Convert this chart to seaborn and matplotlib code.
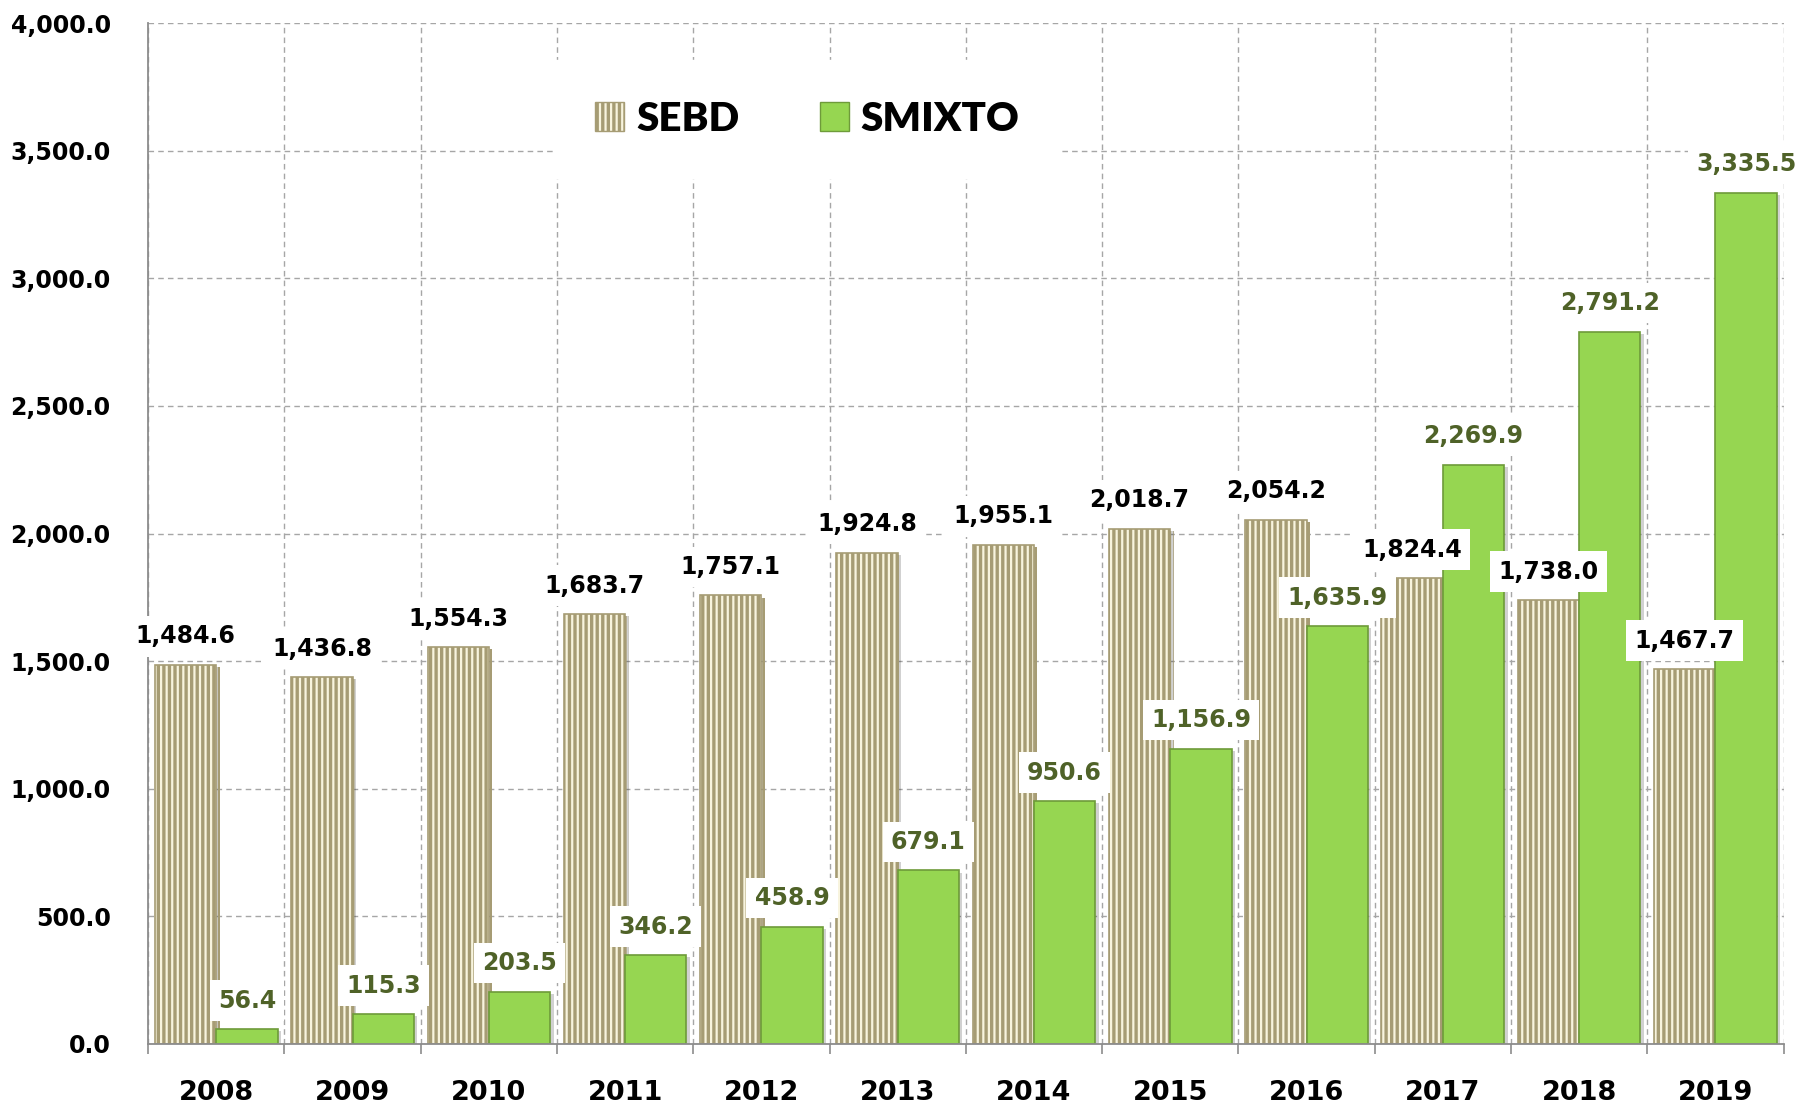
import matplotlib
matplotlib.use("Agg")
import matplotlib.pyplot as plt
import matplotlib.patheffects as pe
from matplotlib.patches import Patch
from matplotlib.ticker import FuncFormatter, MultipleLocator, FixedLocator
import seaborn as sns
import pandas as pd

years = ["2008", "2009", "2010", "2011", "2012", "2013", "2014", "2015", "2016", "2017", "2018", "2019"]
sebd = [1484.6, 1436.8, 1554.3, 1683.7, 1757.1, 1924.8, 1955.1, 2018.7, 2054.2, 1824.4, 1738.0, 1467.7]
smixto = [56.4, 115.3, 203.5, 346.2, 458.9, 679.1, 950.6, 1156.9, 1635.9, 2269.9, 2791.2, 3335.5]
series_names = ["SEBD", "SMIXTO"]

df = pd.DataFrame({"year": years * 2,
                   "value": sebd + smixto,
                   "series": [series_names[0]] * len(years) + [series_names[1]] * len(years)})

sns.set_style("white")
plt.rcParams["font.family"] = ["DejaVu Sans"]
plt.rcParams["hatch.linewidth"] = 2.4
plt.rcParams["text.color"] = "black"
plt.rcParams["xtick.color"] = "black"
plt.rcParams["ytick.color"] = "black"

SEBD_FACE = "#F8F4DE"
SEBD_STRIPE = "#A69C74"
GREEN = "#96D651"
GREEN_EDGE = "#6E9B3A"
LABEL_GREEN = "#4F6228"
GRID = "#A6A6A6"

fig = plt.figure(figsize=(18.07, 11.08), dpi=100)
ax = fig.add_axes([0.082, 0.058, 0.905, 0.921])

sns.barplot(data=df, x="year", y="value", hue="series",
            palette={series_names[0]: SEBD_FACE, series_names[1]: GREEN},
            width=0.9, gap=0, ax=ax, legend=False, saturation=1)

shadow = [pe.SimplePatchShadow(offset=(2.5, -1.5), shadow_rgbFace="#000000", alpha=0.18), pe.Normal()]
for p in ax.containers[0]:
    p.set_hatch("|||")
    p.set_edgecolor(SEBD_STRIPE)
    p.set_linewidth(1.2)
    p.set_path_effects(shadow)
for p in ax.containers[1]:
    p.set_edgecolor(GREEN_EDGE)
    p.set_linewidth(1.2)
    p.set_path_effects(shadow)

fmt = lambda v: f"{v:,.1f}"
ax.bar_label(ax.containers[0], labels=[fmt(v) for v in sebd], padding=12,
             fontsize=17, fontweight="bold", color="black",
             bbox=dict(boxstyle="square,pad=0.35", fc="white", ec="none"))
ax.bar_label(ax.containers[1], labels=[fmt(v) for v in smixto], padding=12,
             fontsize=17, fontweight="bold", color=LABEL_GREEN,
             bbox=dict(boxstyle="square,pad=0.35", fc="white", ec="none"))

ax.set_ylim(0, 4000)
ax.set_xlim(-0.5, len(years) - 0.5)
ax.yaxis.set_major_locator(MultipleLocator(500))
ax.yaxis.set_major_formatter(FuncFormatter(lambda v, p: f"{v:,.1f}"))
ax.xaxis.set_minor_locator(FixedLocator([i - 0.5 for i in range(len(years) + 1)]))

ax.grid(axis="y", which="major", color=GRID, linestyle=(0, (4, 3)), linewidth=1)
ax.grid(axis="x", which="minor", color=GRID, linestyle=(0, (4, 3)), linewidth=1)
ax.grid(axis="x", which="major", visible=False)
ax.set_axisbelow(True)

for s in ["top", "right"]:
    ax.spines[s].set_visible(False)
for s in ["left", "bottom"]:
    ax.spines[s].set_color("#8C8C8C")
    ax.spines[s].set_linewidth(1.3)

ax.tick_params(axis="y", which="major", length=7, width=1.2, color="#8C8C8C", pad=20,
               labelsize=17, labelcolor="black")
ax.tick_params(axis="x", which="major", length=0, pad=26, labelsize=19.5, labelcolor="black")
ax.tick_params(axis="x", which="minor", length=7, width=1.2, color="#8C8C8C", bottom=True)
for t in ax.get_xticklabels() + ax.get_yticklabels():
    t.set_fontweight("bold")

ax.set_xlabel("")
ax.set_ylabel("")

handles = [Patch(facecolor=SEBD_FACE, edgecolor=SEBD_STRIPE, hatch="|||", label=series_names[0]),
           Patch(facecolor=GREEN, edgecolor=GREEN_EDGE, label=series_names[1])]
leg = ax.legend(handles=handles, loc="center", bbox_to_anchor=(0.403, 0.906), ncol=2,
                frameon=True, facecolor="white", edgecolor="white", framealpha=1,
                prop={"family": "Lato", "weight": "heavy", "size": 29},
                handlelength=0.72, handleheight=0.72, handletextpad=0.3,
                columnspacing=2.0, borderpad=1.0, fancybox=False)
for t in leg.get_texts():
    t.set_color("black")

fig.savefig("out.png", dpi=100)
